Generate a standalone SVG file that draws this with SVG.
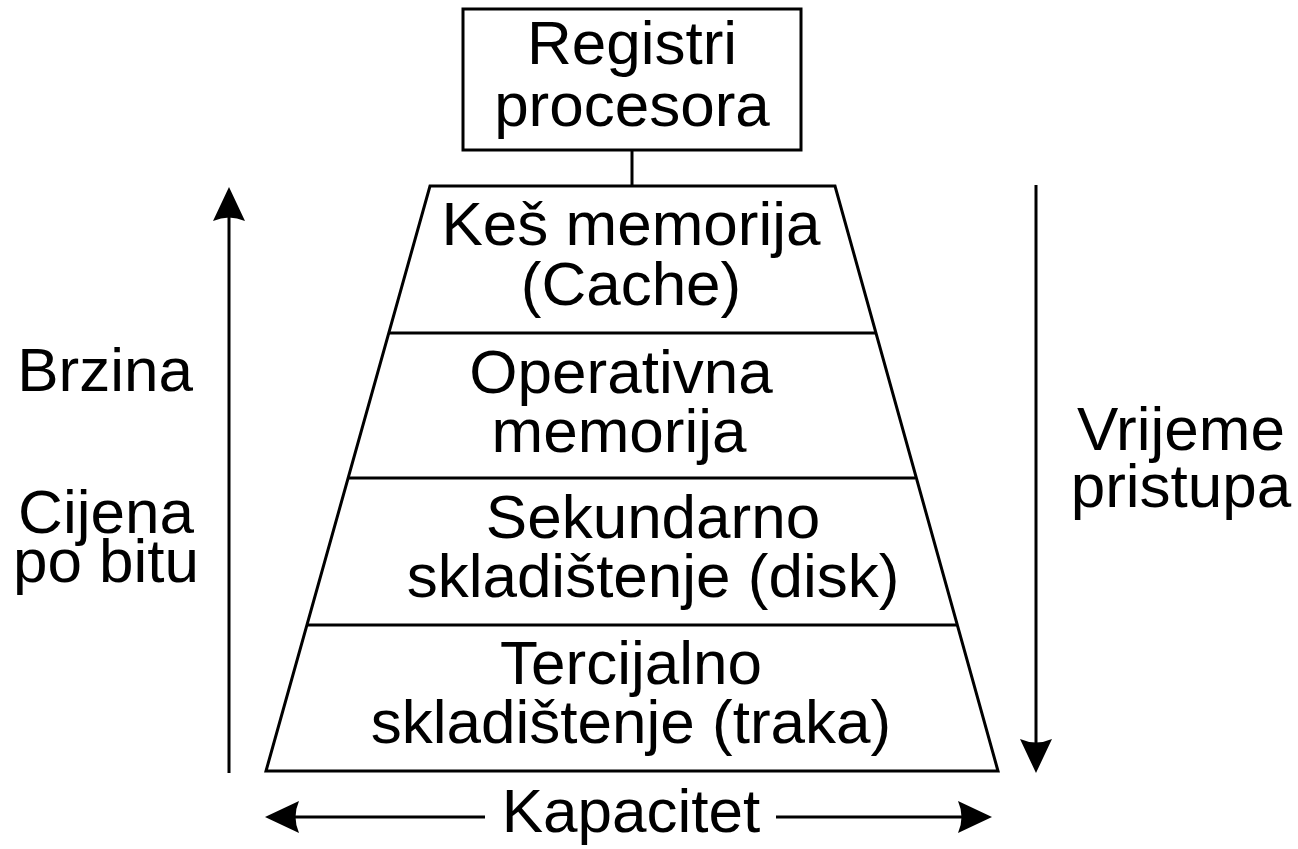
<svg xmlns="http://www.w3.org/2000/svg" width="1298" height="849" viewBox="0 0 1298 849">
<style>
.s{fill:none;stroke:#000;stroke-width:3;stroke-linejoin:miter}
.t{font-family:"Liberation Sans",Arial,sans-serif;font-size:62px;fill:#000;text-anchor:middle}
.h{fill:#000;stroke:none}
</style>
<rect width="1298" height="849" fill="#fff"/>
<g id="connectors">
<line class="s" x1="632" y1="150" x2="632" y2="186"/>
<line class="s" x1="229" y1="773" x2="229" y2="215"/>
<path class="h" d="M229,187 L245,221 Q229,214 213,221 Z"/>
<line class="s" x1="1036" y1="185" x2="1036" y2="745"/>
<path class="h" d="M1036,773 L1020,739 Q1036,746 1052,739 Z"/>
<line class="s" x1="292" y1="817" x2="485" y2="817"/>
<path class="h" d="M265,817 L299,801 Q292,817 299,833 Z"/>
<line class="s" x1="776" y1="817" x2="965" y2="817"/>
<path class="h" d="M992,817 L958,801 Q965,817 958,833 Z"/>
</g>
<g id="registri">
<rect class="s" x="463" y="9" width="338" height="141"/>
<text class="t" x="632" y="64">Registri</text>
<text class="t" x="632" y="126">procesora</text>
</g>
<g id="pyramid">
<polygon class="s" points="430,186 835,186 998,771 266,771"/>
</g>
<g id="kes">
<text class="t" x="631" y="245">Keš memorija</text>
<text class="t" x="631" y="305">(Cache)</text>
</g>
<g id="operativna">
<line class="s" x1="389" y1="333" x2="875" y2="333"/>
<text class="t" x="621" y="393">Operativna</text>
<text class="t" x="619" y="452">memorija</text>
</g>
<g id="sekundarno">
<line class="s" x1="348" y1="478" x2="915" y2="478"/>
<text class="t" x="653" y="538">Sekundarno</text>
<text class="t" x="653" y="597">skladištenje (disk)</text>
</g>
<g id="tercijalno">
<line class="s" x1="307" y1="625" x2="957" y2="625"/>
<text class="t" x="631" y="684">Tercijalno</text>
<text class="t" x="631" y="743">skladištenje (traka)</text>
</g>
<g id="brzina">
<text class="t" x="105" y="391">Brzina</text>
</g>
<g id="cijena">
<text class="t" x="106" y="533">Cijena</text>
<text class="t" x="106" y="582">po bitu</text>
</g>
<g id="vrijeme">
<text class="t" x="1181" y="450">Vrijeme</text>
<text class="t" x="1181" y="507">pristupa</text>
</g>
<g id="kapacitet">
<text class="t" x="631" y="832">Kapacitet</text>
</g>
</svg>
